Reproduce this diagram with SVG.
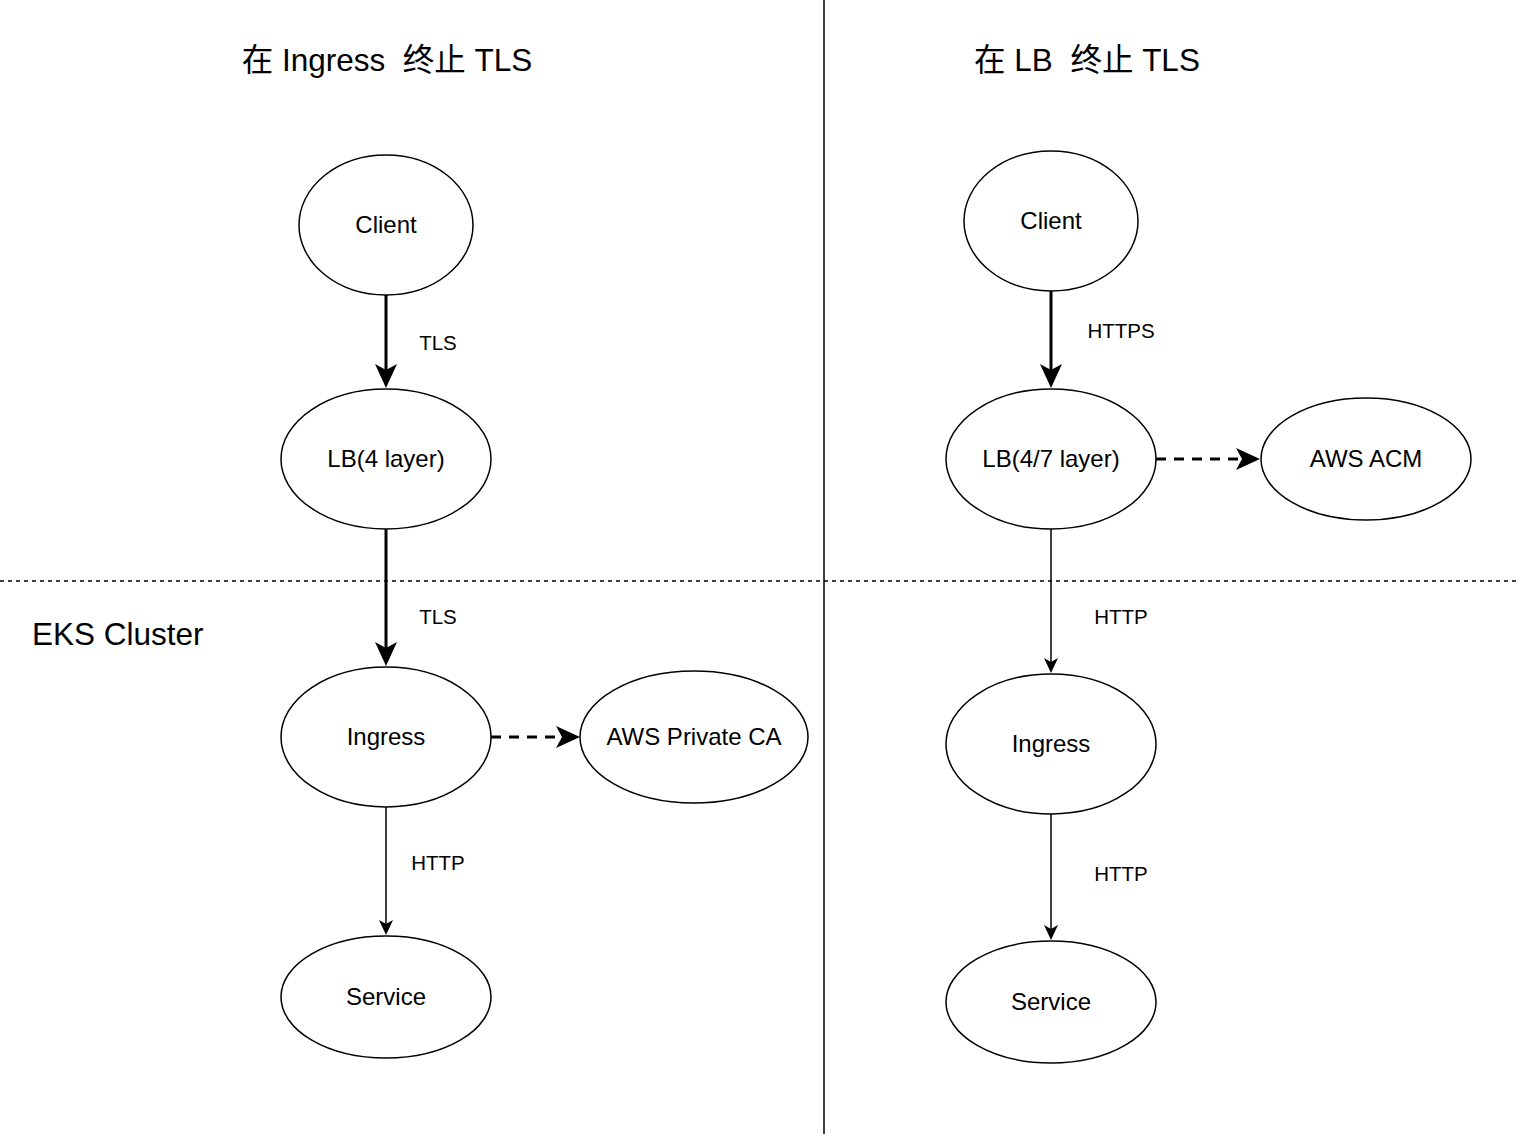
<svg xmlns="http://www.w3.org/2000/svg" width="1519" height="1134" viewBox="0 0 1519 1134">
<style>
.node{fill:#fff;stroke:#000;stroke-width:1.5}
.lbl{font-family:"Liberation Sans","Noto Sans CJK SC",sans-serif;font-size:24px;text-anchor:middle;fill:#000}
.elbl{font-family:"Liberation Sans",sans-serif;font-size:20.5px;text-anchor:middle;fill:#000}
.title{font-family:"Liberation Sans","Noto Sans CJK SC",sans-serif;font-size:31.5px;text-anchor:middle;fill:#000;white-space:pre}
.thick{stroke:#000;stroke-width:3;fill:none}
.thin{stroke:#000;stroke-width:1.5;fill:none}
.dash{stroke-dasharray:10 8}
</style>
<defs>
<marker id="ah" markerUnits="userSpaceOnUse" markerWidth="26" markerHeight="24" refX="16" refY="12" orient="auto" overflow="visible">
<path d="M0,1 L24,12 L0,23 L6,12 Z" fill="#000"/>
</marker>
<marker id="ahs" markerUnits="userSpaceOnUse" markerWidth="16" markerHeight="16" refX="9" refY="8" orient="auto" overflow="visible">
<path d="M0,1 L15,8 L0,15 L4,8 Z" fill="#000"/>
</marker>
</defs>
<rect width="1519" height="1134" fill="#fff"/>
<g id="dividers">
<line x1="824" y1="0" x2="824" y2="1134" stroke="#000" stroke-width="1.5"/>
<line x1="0" y1="581" x2="1519" y2="581" stroke="#000" stroke-width="1.3" stroke-dasharray="4 4"/>
</g>
<g id="titles">
<text class="title" x="387" y="71" xml:space="preserve">在 Ingress  终止 TLS</text>
<text class="title" x="1087" y="71" xml:space="preserve">在 LB  终止 TLS</text>
<text x="32" y="645" font-family="Liberation Sans, sans-serif" font-size="31.5" fill="#000">EKS Cluster</text>
</g>
<g id="connectors">
<line class="thick" x1="386" y1="295" x2="386" y2="380" marker-end="url(#ah)"/>
<line class="thick" x1="386" y1="529" x2="386" y2="658" marker-end="url(#ah)"/>
<line class="thick dash" x1="491" y1="737" x2="572" y2="737" marker-end="url(#ah)"/>
<line class="thin" x1="386" y1="807" x2="386" y2="929" marker-end="url(#ahs)"/>
<line class="thick" x1="1051" y1="291" x2="1051" y2="380" marker-end="url(#ah)"/>
<line class="thick dash" x1="1156" y1="459" x2="1252" y2="459" marker-end="url(#ah)"/>
<line class="thin" x1="1051" y1="529" x2="1051" y2="667" marker-end="url(#ahs)"/>
<line class="thin" x1="1051" y1="814" x2="1051" y2="934" marker-end="url(#ahs)"/>
<text class="elbl" x="438" y="350">TLS</text>
<text class="elbl" x="438" y="624">TLS</text>
<text class="elbl" x="438" y="870">HTTP</text>
<text class="elbl" x="1121" y="338">HTTPS</text>
<text class="elbl" x="1121" y="624">HTTP</text>
<text class="elbl" x="1121" y="881">HTTP</text>
</g>
<g id="client-l"><ellipse class="node" cx="386" cy="225" rx="87" ry="70"/><text class="lbl" x="386" y="233">Client</text></g>
<g id="lb-l"><ellipse class="node" cx="386" cy="459" rx="105" ry="70"/><text class="lbl" x="386" y="467">LB(4 layer)</text></g>
<g id="ingress-l"><ellipse class="node" cx="386" cy="737" rx="105" ry="70"/><text class="lbl" x="386" y="745">Ingress</text></g>
<g id="privateca"><ellipse class="node" cx="694" cy="737" rx="114" ry="66"/><text class="lbl" x="694" y="745">AWS Private CA</text></g>
<g id="service-l"><ellipse class="node" cx="386" cy="997" rx="105" ry="61"/><text class="lbl" x="386" y="1005">Service</text></g>
<g id="client-r"><ellipse class="node" cx="1051" cy="221" rx="87" ry="70"/><text class="lbl" x="1051" y="229">Client</text></g>
<g id="lb-r"><ellipse class="node" cx="1051" cy="459" rx="105" ry="70"/><text class="lbl" x="1051" y="467">LB(4/7 layer)</text></g>
<g id="acm"><ellipse class="node" cx="1366" cy="459" rx="105" ry="61"/><text class="lbl" x="1366" y="467">AWS ACM</text></g>
<g id="ingress-r"><ellipse class="node" cx="1051" cy="744" rx="105" ry="70"/><text class="lbl" x="1051" y="752">Ingress</text></g>
<g id="service-r"><ellipse class="node" cx="1051" cy="1002" rx="105" ry="61"/><text class="lbl" x="1051" y="1010">Service</text></g>
</svg>
